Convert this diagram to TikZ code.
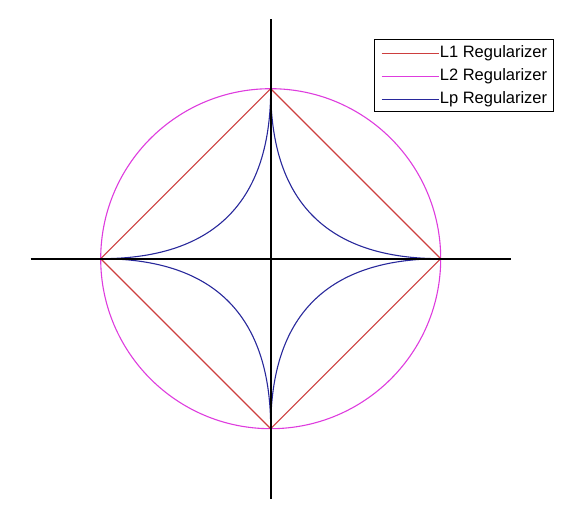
\documentclass[tikz,border=0pt]{standalone}
\usepackage{fontspec}
\setmainfont{Liberation Sans}
\usepackage{tikz}
\definecolor{lonered}{RGB}{205,62,62}
\definecolor{ltwomag}{RGB}{222,60,222}
\definecolor{lpblue}{RGB}{40,40,155}

\begin{document}
\begin{tikzpicture}[x=1pt, y=1pt, every node/.style={font=\fontsize{16.5}{19}\selectfont},
    curve/.style={line width=1.1pt}, axis/.style={line width=2pt}]
  \def\r{170}
  \useasboundingbox (-270.7,-245.3) rectangle (308.3,258.7);
  % L2 ball, L1 ball, Lp ball (p = 1/2)
  \draw[curve, ltwomag] (0,0) circle (\r);
  \draw[curve, lonered] (\r,0) -- (0,\r) -- (-\r,0) -- (0,-\r) -- cycle;
  \draw[curve, lpblue] plot[domain=0:360, samples=721, variable=\t]
    ({\r*cos(\t)*cos(\t)*cos(\t)*abs(cos(\t))}, {\r*sin(\t)*sin(\t)*sin(\t)*abs(sin(\t))}) -- cycle;
  % axes
  \draw[axis] (-240,0) -- (240,0);
  \draw[axis] (0,-240) -- (0,240);
  % legend
  \draw[line width=0.9pt] (103.3,147.7) rectangle (282.3,219.7);
  \node[anchor=west, inner sep=1pt] (lone) at (168,205.2) {L1 Regularizer};
  \node[anchor=west, inner sep=1pt] (ltwo) at (168,182.2) {L2 Regularizer};
  \node[anchor=west, inner sep=1pt] (lp)   at (168,159.2) {Lp Regularizer};
  \coordinate (lonestart) at (111,205.2);
  \coordinate (ltwostart) at (111,182.2);
  \coordinate (lpstart)   at (111,159.2);
  \draw[curve, lonered] (lonestart) -- (lone.west);
  \draw[curve, ltwomag] (ltwostart) -- (ltwo.west);
  \draw[curve, lpblue]  (lpstart) -- (lp.west);
\end{tikzpicture}
\end{document}
